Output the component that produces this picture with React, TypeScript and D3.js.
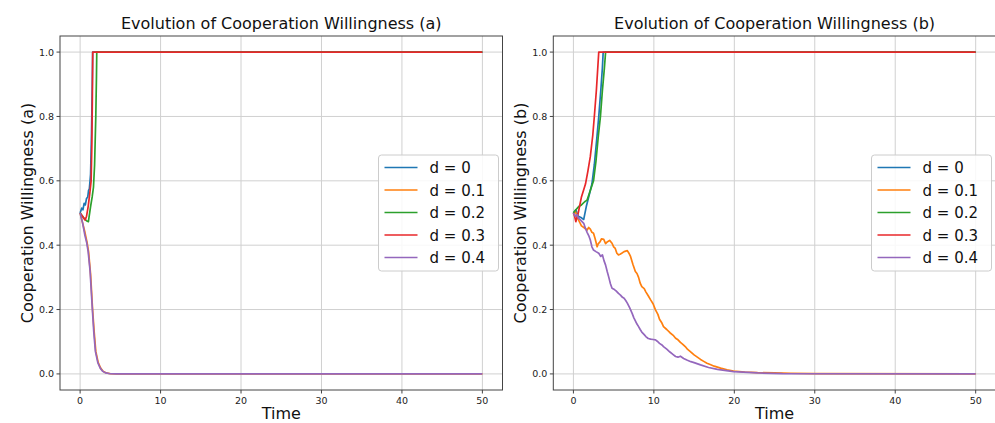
import React from "react";
import * as d3 from "d3";

// ---------- data ----------
const labels = ["d = 0", "d = 0.1", "d = 0.2", "d = 0.3", "d = 0.4"];
const colors = ["#1f77b4", "#ff7f0e", "#2ca02c", "#e8272a", "#9467bd"];
const xTicks = [0, 10, 20, 30, 40, 50];
const yTicks = [0, 0.2, 0.4, 0.6, 0.8, 1.0];

// panel (a): [time, value]
const aD0: [number, number][] = [[0, 0.5], [0.2, 0.515], [0.35, 0.51], [0.5, 0.53], [0.65, 0.525], [0.8, 0.545], [0.95, 0.55], [1.05, 0.57], [1.15, 0.575], [1.3, 0.62], [1.42, 0.75], [1.5, 0.88], [1.56, 1.0], [50, 1.0]];
const aD1: [number, number][] = [[0, 0.5], [0.3, 0.47], [0.6, 0.44], [0.85, 0.41], [1.05, 0.38], [1.3, 0.31], [1.55, 0.2], [1.75, 0.13], [1.95, 0.07], [2.25, 0.035], [2.55, 0.018], [2.85, 0.008], [3.25, 0.003], [3.8, 0.0005], [4.5, 0], [50, 0]];
const aD2: [number, number][] = [[0, 0.5], [0.3, 0.49], [0.6, 0.48], [0.85, 0.475], [1.03, 0.473], [1.3, 0.52], [1.5, 0.55], [1.66, 0.58], [1.8, 0.65], [1.95, 0.8], [2.03, 0.92], [2.07, 1.0], [50, 1.0]];
const aD3: [number, number][] = [[0, 0.5], [0.3, 0.49], [0.62, 0.478], [0.8, 0.49], [1.0, 0.52], [1.2, 0.56], [1.37, 0.6], [1.45, 0.7], [1.52, 0.85], [1.57, 1.0], [50, 1.0]];
const aD4: [number, number][] = [[0, 0.5], [0.3, 0.47], [0.6, 0.43], [0.8, 0.41], [1.0, 0.38], [1.24, 0.32], [1.5, 0.21], [1.7, 0.13], [1.9, 0.07], [2.2, 0.035], [2.5, 0.018], [2.8, 0.008], [3.2, 0.003], [3.7, 0.0005], [4.5, 0], [50, 0]];

// panel (b)
const bD0: [number, number][] = [[0, 0.5], [0.3, 0.51], [0.6, 0.49], [1.0, 0.485], [1.28, 0.48], [1.6, 0.52], [2.0, 0.56], [2.3, 0.59], [2.6, 0.65], [2.9, 0.73], [3.15, 0.8], [3.4, 0.88], [3.6, 0.95], [3.7, 1.0], [50, 1.0]];
const bD1: [number, number][] = [[0, 0.5], [0.25, 0.504], [0.45, 0.49], [0.6, 0.48], [0.8, 0.47], [1.0, 0.46], [1.3, 0.455], [1.7, 0.447], [1.9, 0.455], [2.1, 0.45], [2.3, 0.44], [2.5, 0.437], [2.7, 0.42], [2.95, 0.395], [3.1, 0.405], [3.3, 0.41], [3.5, 0.42], [3.77, 0.418], [4.0, 0.405], [4.2, 0.41], [4.5, 0.415], [4.8, 0.406], [5.0, 0.395], [5.2, 0.39], [5.4, 0.375], [5.6, 0.37], [5.8, 0.372], [6.0, 0.375], [6.3, 0.38], [6.7, 0.383], [6.9, 0.375], [7.1, 0.365], [7.4, 0.34], [7.7, 0.318], [7.9, 0.312], [8.1, 0.3], [8.3, 0.282], [8.5, 0.271], [8.8, 0.265], [9.0, 0.255], [9.3, 0.243], [9.6, 0.23], [9.9, 0.218], [10.2, 0.199], [10.5, 0.185], [10.7, 0.17], [11.0, 0.158], [11.2, 0.147], [11.6, 0.138], [12.0, 0.128], [12.4, 0.12], [12.7, 0.111], [13.0, 0.106], [13.3, 0.098], [13.6, 0.092], [13.9, 0.085], [14.2, 0.076], [14.5, 0.07], [15.0, 0.059], [15.4, 0.052], [15.8, 0.045], [16.2, 0.039], [16.6, 0.033], [17.0, 0.029], [17.5, 0.024], [18.3, 0.018], [19.1, 0.013], [19.9, 0.009], [21.3, 0.006], [22.9, 0.004], [25, 0.003], [27, 0.002], [30, 0.001], [50, 0]];
const bD2: [number, number][] = [[0, 0.5], [0.3, 0.51], [0.66, 0.52], [1.0, 0.525], [1.4, 0.535], [1.7, 0.54], [2.1, 0.57], [2.5, 0.6], [2.8, 0.66], [3.1, 0.74], [3.36, 0.8], [3.6, 0.88], [3.85, 0.95], [4.0, 1.0], [50, 1.0]];
const bD3: [number, number][] = [[0, 0.5], [0.15, 0.49], [0.3, 0.473], [0.6, 0.5], [1.0, 0.55], [1.5, 0.59], [1.8, 0.63], [2.1, 0.675], [2.4, 0.74], [2.6, 0.8], [2.85, 0.88], [3.05, 0.96], [3.15, 1.0], [50, 1.0]];
const bD4: [number, number][] = [[0, 0.5], [0.25, 0.49], [0.45, 0.495], [0.6, 0.485], [0.9, 0.478], [1.28, 0.468], [1.5, 0.452], [1.7, 0.44], [1.9, 0.43], [2.1, 0.416], [2.3, 0.395], [2.5, 0.385], [2.8, 0.38], [3.15, 0.375], [3.4, 0.365], [3.6, 0.37], [3.8, 0.352], [4.0, 0.338], [4.2, 0.318], [4.4, 0.3], [4.6, 0.28], [4.8, 0.266], [5.1, 0.262], [5.3, 0.258], [5.6, 0.25], [5.85, 0.245], [6.1, 0.238], [6.3, 0.235], [6.5, 0.228], [6.7, 0.22], [7.0, 0.205], [7.3, 0.188], [7.5, 0.175], [7.7, 0.165], [7.9, 0.155], [8.1, 0.147], [8.3, 0.138], [8.5, 0.13], [8.8, 0.122], [9.0, 0.116], [9.3, 0.11], [9.6, 0.108], [9.9, 0.107], [10.2, 0.106], [10.5, 0.1], [10.7, 0.095], [11.0, 0.09], [11.2, 0.085], [11.6, 0.077], [12.0, 0.068], [12.4, 0.06], [12.7, 0.054], [13.0, 0.052], [13.3, 0.055], [13.7, 0.048], [14.1, 0.043], [14.6, 0.038], [15.0, 0.035], [15.8, 0.028], [16.8, 0.02], [17.9, 0.014], [19.9, 0.007], [22.9, 0.003], [26, 0.001], [50, 0]];

const panelA = [aD0, aD1, aD2, aD3, aD4];
const panelB = [bD0, bD1, bD2, bD3, bD4];

const FONT = "DejaVu Sans, sans-serif";

type PanelProps = {
  series: [number, number][][];
  x0: number;
  x1: number;
  title: string;
  ylabel: string;
  ylabelX: number;
  legendX: number;
};

const Y0 = 36;
const Y1 = 390;

function Panel({ series, x0, x1, title, ylabel, ylabelX, legendX }: PanelProps) {
  const x = d3.scaleLinear().domain([-2.5, 52.5]).range([x0, x1]);
  const y = d3.scaleLinear().domain([-0.05, 1.05]).range([Y1, Y0]);
  const line = d3
    .line<[number, number]>()
    .x((d) => x(d[0]))
    .y((d) => y(d[1]));
  const clipId = "clip" + Math.round(x0);
  const lx = legendX;
  const ly = 155;
  const cx = (x0 + Math.min(x1, 995)) / 2;
  return (
    <g>
      <defs>
        <clipPath id={clipId}>
          <rect x={x0} y={Y0} width={x1 - x0} height={Y1 - Y0} />
        </clipPath>
      </defs>
      {xTicks.map((t) => (
        <line key={"gx" + t} x1={x(t)} x2={x(t)} y1={Y0} y2={Y1} stroke="#d0d0d0" strokeWidth={1} />
      ))}
      {yTicks.map((t) => (
        <line key={"gy" + t} x1={x0} x2={x1} y1={y(t)} y2={y(t)} stroke="#d0d0d0" strokeWidth={1} />
      ))}
      <g clipPath={`url(#${clipId})`}>
        {series.map((s, i) => (
          <path key={i} d={line(s) || ""} fill="none" stroke={colors[i]} strokeWidth={1.7} strokeLinejoin="round" />
        ))}
      </g>
      <rect x={x0} y={Y0} width={x1 - x0} height={Y1 - Y0} fill="none" stroke="#444" strokeWidth={1} />
      {xTicks.map((t) => (
        <g key={"tx" + t}>
          <line x1={x(t)} x2={x(t)} y1={Y1} y2={Y1 + 3.5} stroke="#444" />
          <text x={x(t)} y={Y1 + 14} textAnchor="middle" fontSize={9.5} fontFamily={FONT} fill="#222">
            {t}
          </text>
        </g>
      ))}
      {yTicks.map((t) => (
        <g key={"ty" + t}>
          <line x1={x0 - 3.5} x2={x0} y1={y(t)} y2={y(t)} stroke="#444" />
          <text x={x0 - 6} y={y(t) + 3.5} textAnchor="end" fontSize={9.5} fontFamily={FONT} fill="#222">
            {t.toFixed(1)}
          </text>
        </g>
      ))}
      <text x={x(25)} y={29} textAnchor="middle" fontSize={16} fontFamily={FONT} fill="#111">
        {title}
      </text>
      <text x={x(25)} y={419} textAnchor="middle" fontSize={16} fontFamily={FONT} fill="#111">
        Time
      </text>
      <text
        transform={`translate(${ylabelX},${(Y0 + Y1) / 2}) rotate(-90)`}
        textAnchor="middle"
        fontSize={16}
        fontFamily={FONT}
        fill="#111"
      >
        {ylabel}
      </text>
      <rect x={lx} y={ly} width={120} height={116} rx={3} fill="white" fillOpacity={0.85} stroke="#cccccc" />
      {labels.map((lab, i) => (
        <g key={lab}>
          <line x1={lx + 6} x2={lx + 39} y1={ly + 12.5 + i * 22.5} y2={ly + 12.5 + i * 22.5} stroke={colors[i]} strokeWidth={1.7} />
          <text x={lx + 51} y={ly + 18 + i * 22.5} fontSize={15} fontFamily={FONT} fill="#111">
            {lab}
          </text>
        </g>
      ))}
      {cx > 0 ? null : null}
    </g>
  );
}

export default function App() {
  return (
    <svg width={995} height={423} style={{ position: "absolute", left: 0, top: 0, background: "white" }}>
      <Panel series={panelA} x0={60} x1={502.5} title="Evolution of Cooperation Willingness (a)" ylabel="Cooperation Willingness (a)" ylabelX={33} legendX={378.5} />
      <Panel series={panelB} x0={553.3} x1={995.8} title="Evolution of Cooperation Willingness (b)" ylabel="Cooperation Willingness (b)" ylabelX={526} legendX={871.5} />
    </svg>
  );
}
